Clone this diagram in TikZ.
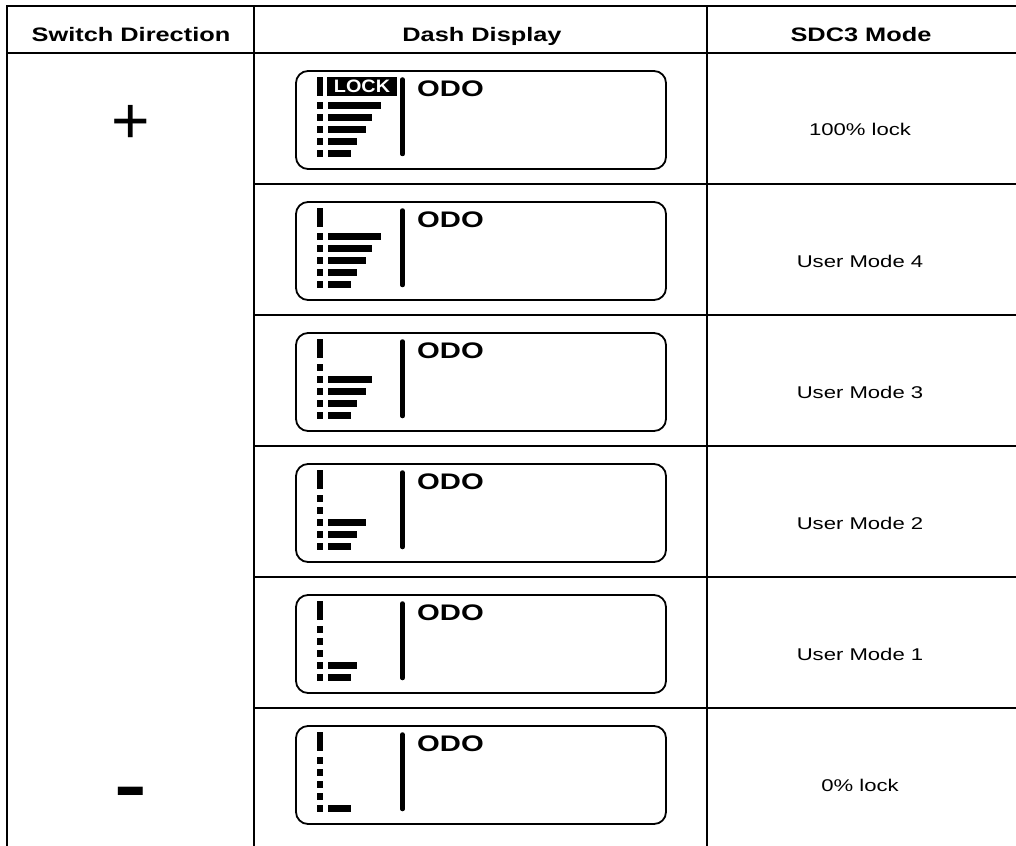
\documentclass[tikz,border=0pt]{standalone}
\usepackage{fontspec}
\setmainfont{Liberation Sans}
\usepackage{graphicx}
\usetikzlibrary{positioning,calc}

% text in this sheet is set a bit wider than the font
\newcommand{\strtxt}[1]{\scalebox{1.3}[1]{#1}}

\tikzset{
  rule/.style={line width=2.4pt,line cap=rect},
  hdr/.style={anchor=base,inner sep=0pt,font=\fontsize{19.5}{21}\selectfont\bfseries},
  modetxt/.style={anchor=base,inner sep=0pt,font=\fontsize{17}{19}\selectfont},
  sign/.style={inner sep=0pt,font=\fontsize{66}{66}\selectfont},
  dispbox/.style={draw,line width=1.8pt,rounded corners=12pt,anchor=north west,
    minimum width=370pt,minimum height=98pt,inner sep=0pt,outer sep=0pt},
  sepbar/.style={line width=4.5pt,line cap=round},
  odo/.style={anchor=base west,inner sep=0pt,font=\fontsize{22.5}{24}\selectfont\bfseries},
  lockflag/.style={anchor=north west,fill=black,text=white,inner sep=0pt,outer sep=0pt,
    minimum width=70pt,minimum height=18.7pt,font=\fontsize{18}{18}\selectfont\bfseries}
}

\begin{document}
\begin{tikzpicture}[x=1pt,y=-1pt]
  \useasboundingbox (0,0) rectangle (1016,845);

  % Table rules
  \draw[rule] (7,6) -- (1016,6);
  \draw[rule] (7,53) -- (1016,53);
  \foreach \x in {7,254,707}
    \draw[rule] (\x,6) -- (\x,845);
  \foreach \y in {184,315,446,577,708}
    \draw[rule] (254,\y) -- (1016,\y);

  % Header cells
  \node[hdr] (hsw) at (131,42) {\strtxt{Switch Direction}};
  \node[hdr] (hdash) at (482,42) {\strtxt{Dash Display}};
  \node[hdr] (hmode) at (861,42) {\strtxt{SDC3 Mode}};

  % Switch direction signs
  \node[sign] (up) at (131,124) {+};
  \node[sign,font=\fontsize{70}{70}\selectfont\bfseries] (down) at (131,798.5) {\scalebox{1.4}[1]{-}};

  % One dash display per mode
  \foreach \i/\nb/\mtxt in {0/5/100\% lock,1/5/User Mode 4,2/4/User Mode 3,
                            3/3/User Mode 2,4/2/User Mode 1,5/1/0\% lock}{
    \pgfmathsetmacro{\rtop}{53+131*\i}
    \node[dispbox] (disp\i) at (296,\rtop+18) {};
    % level scale on the left
    \fill ($(disp\i.north west)+(21,6.3)$) rectangle ($(disp\i.north west)+(26.9,25)$);
    \foreach \k/\w in {0/85,1/75.7,2/70,3/61,4/55}{
      \fill ($(disp\i.north west)+(21,30.7+12*\k)$) rectangle ($(disp\i.north west)+(26.9,37.6+12*\k)$);
      \ifnum\k<\numexpr5-\nb\relax\else
        \fill ($(disp\i.north west)+(31.7,30.7+12*\k)$) rectangle ($(disp\i.north west)+(\w,37.6+12*\k)$);
      \fi
    }
    \draw[sepbar] ($(disp\i.north west)+(106.5,8.5)$) -- ($(disp\i.north west)+(106.5,83)$);
    \node[odo] (odo\i) at ($(disp\i.north west)+(121,25.3)$) {\strtxt{ODO}};
    \node[modetxt] (mode\i) at (860,\rtop+83) {\strtxt{\mtxt}};
  }

  % LOCK flag on the top display
  \node[lockflag] (lock) at ($(disp0.north west)+(31,6.3)$) {\scalebox{1.1}[1]{LOCK}};
\end{tikzpicture}
\end{document}
